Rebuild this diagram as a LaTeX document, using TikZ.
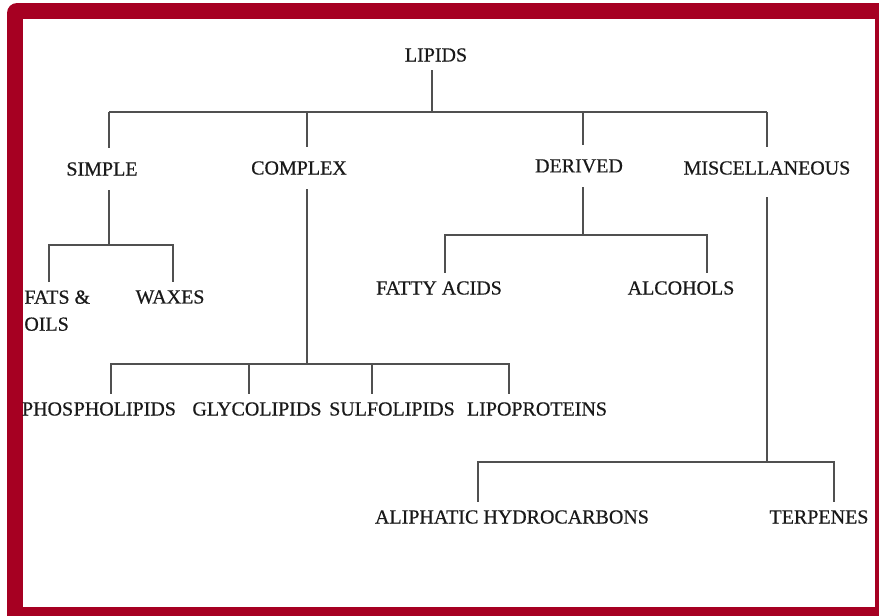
\documentclass[tikz,border=0pt]{standalone}
\usepackage{fontspec}
\setmainfont{Liberation Serif}
\newfontfamily\lipfont[FakeBold=0.5]{Liberation Serif}
\usepackage{xcolor}
\usepackage{tikz}
\usetikzlibrary{positioning, calc}

\definecolor{framered}{RGB}{166,0,34}
\definecolor{linegray}{RGB}{80,80,80}
\definecolor{textdark}{RGB}{25,25,25}

\begin{document}
\begin{tikzpicture}[
    x=0.5pt, y=-0.5pt,
    item/.style={inner xsep=0pt, inner ysep=4pt, text=textdark, font=\lipfont\fontsize{10}{13.5}\selectfont},
    head/.style={item, inner ysep=7pt},
    link/.style={draw=linegray, line width=0.9pt}
]
\useasboundingbox (0,0) rectangle (879,616);

% Frame
\fill[framered] (7,616) [rounded corners=5pt] -- (7,3) [sharp corners] -- (879,3) -- (879,616) -- cycle;
\fill[white] (23,19) rectangle (875,607);

% Nodes
\node[item] (lipids) at (436,55) {LIPIDS};
\node[head] (simple) at (102,169) {SIMPLE};
\node[head] (complex) at (299,168) {COMPLEX};
\node[head] (derived) at (579,166) {DERIVED};
\node[head] (misc) at (767,168) {MISCELLANEOUS};

\node[item, align=left, anchor=north west] (fats) at (24,282) {FATS \&\\OILS};
\node[item] (waxes) at (170,297) {WAXES};

\node[item] (fatty) at (439,288) {FATTY ACIDS};
\node[item] (alcohols) at (681,288) {ALCOHOLS};

\node[item] (phospho) at (99,409) {PHOS\kern0.3pt PHOLIPIDS};
\node[item] (glyco) at (257,409) {GLYCOLIPIDS};
\node[item] (sulfo) at (392,409) {SULFOLIPIDS};
\node[item] (lipo) at (537,409) {LIPOPROTEINS};

\node[item] (aliph) at (512,517) {ALIPHATIC HYDROCARBONS};
\node[item] (terp) at (819,517) {TERPENES};

% Top level
\coordinate (top) at (432,112);
\coordinate (bS) at (109,112);
\coordinate (bC) at (307,112);
\coordinate (bD) at (583,112);
\coordinate (bM) at (767,112);
\draw[link] (lipids.south -| top) -- (top);
\draw[link] (bS) -- (bM);
\foreach \n/\b in {simple/bS, complex/bC, derived/bD, misc/bM}
    \draw[link] (\b) -- (\b |- \n.north);

% Simple
\coordinate (sS) at (109,245);
\coordinate (sF) at (49,245);
\coordinate (sW) at (173,245);
\draw[link] (simple.south -| sS) -- (sS);
\draw[link] (fats.north -| sF) -- (sF) -- (sW) -- (waxes.north -| sW);

% Complex
\coordinate (cC) at (307,364);
\coordinate (cP) at (111,364);
\coordinate (cG) at (249,364);
\coordinate (cS) at (372,364);
\coordinate (cL) at (509,364);
\draw[link] (complex.south -| cC) -- (cC);
\draw[link] (phospho.north -| cP) -- (cP) -- (cL) -- (lipo.north -| cL);
\draw[link] (cG) -- (glyco.north -| cG);
\draw[link] (cS) -- (sulfo.north -| cS);

% Derived
\coordinate (dD) at (583,235);
\coordinate (dF) at (445,235);
\coordinate (dA) at (707,235);
\draw[link] (derived.south -| dD) -- (dD);
\draw[link] (fatty.north -| dF) -- (dF) -- (dA) -- (alcohols.north -| dA);

% Miscellaneous
\coordinate (mS) at ([yshift=-4pt]misc.south);
\coordinate (mM) at (767,462);
\coordinate (mA) at (478,462);
\coordinate (mT) at (834,462);
\draw[link] (mS -| mM) -- (mM);
\draw[link] (aliph.north -| mA) -- (mA) -- (mT) -- (terp.north -| mT);

\end{tikzpicture}
\end{document}
